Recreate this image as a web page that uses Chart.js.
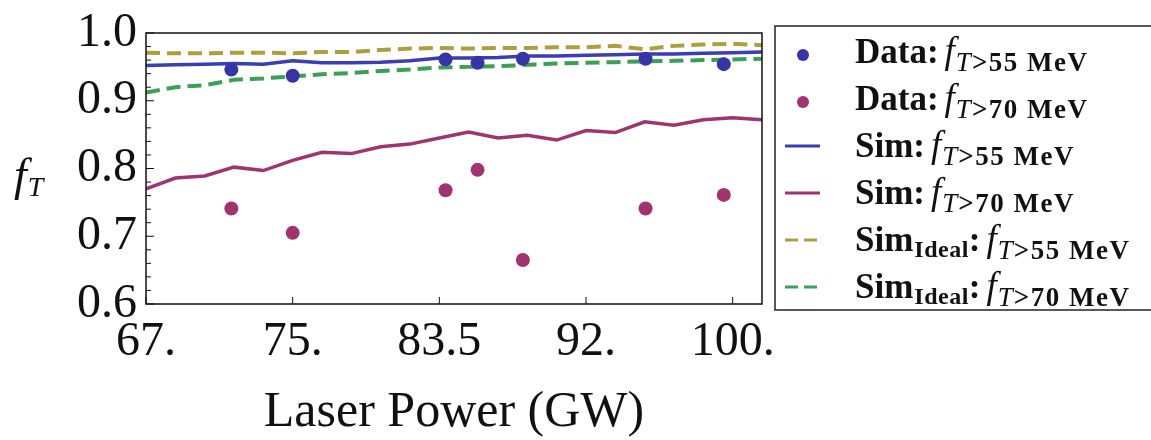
<!DOCTYPE html>
<html>
<head>
    <title>f_T vs Laser Power</title>
    <script src="https://cdn.jsdelivr.net/npm/chart.js"></script>
    <style>
        body {
            margin: 0;
            background: #fff;
        }
    </style>
</head>
<body>
<canvas id="chart" width="1151" height="440"></canvas>
<script>
    // simulation grid (GW)
    const simPower = [67, 68.65, 70.3, 71.95, 73.6, 75.25, 76.9, 78.55, 80.2, 81.85, 83.5,
                      85.15, 86.8, 88.45, 90.1, 91.75, 93.4, 95.05, 96.7, 98.35, 100, 101.65];
    const simF55 = [0.952, 0.953, 0.954, 0.955, 0.954, 0.959, 0.956, 0.956, 0.957, 0.959, 0.963,
                    0.963, 0.964, 0.966, 0.966, 0.967, 0.968, 0.969, 0.969, 0.970, 0.971, 0.972];
    const simF70 = [0.770, 0.786, 0.789, 0.802, 0.797, 0.812, 0.824, 0.822, 0.832, 0.836, 0.845,
                    0.854, 0.845, 0.849, 0.842, 0.856, 0.853, 0.869, 0.864, 0.872, 0.875, 0.872];
    const idealF55 = [0.971, 0.970, 0.970, 0.971, 0.971, 0.970, 0.972, 0.972, 0.975, 0.977, 0.978,
                      0.977, 0.978, 0.978, 0.979, 0.979, 0.981, 0.976, 0.981, 0.983, 0.984, 0.982];
    const idealF70 = [0.912, 0.920, 0.923, 0.931, 0.933, 0.936, 0.939, 0.941, 0.944, 0.946, 0.949,
                      0.950, 0.951, 0.953, 0.955, 0.956, 0.957, 0.958, 0.959, 0.960, 0.961, 0.962];

    // measured points
    const dataPower = [71.8, 75.25, 83.85, 85.65, 88.2, 95.1, 99.5];
    const dataF55 = [0.946, 0.937, 0.961, 0.956, 0.962, 0.962, 0.954];
    const dataF70 = [0.741, 0.705, 0.768, 0.798, 0.665, 0.741, 0.761];

    const xTickValues = [67, 75.25, 83.5, 91.75, 100];
    const xTickLabels = ['67.', '75.', '83.5', '92.', '100.'];

    const SERIF = '"Liberation Serif", "Times New Roman", serif';

    function pts(xs, ys) {
        return xs.map((x, i) => ({x: x, y: ys[i]}));
    }

    // legend rows: dataset index, head word, head subscript, energy cut
    const legendRows = [
        {ds: 0, head: 'Data', sub: '', cut: '55'},
        {ds: 1, head: 'Data', sub: '', cut: '70'},
        {ds: 2, head: 'Sim', sub: '', cut: '55'},
        {ds: 3, head: 'Sim', sub: '', cut: '70'},
        {ds: 4, head: 'Sim', sub: 'Ideal', cut: '55'},
        {ds: 5, head: 'Sim', sub: 'Ideal', cut: '70'}
    ];

    function piece(ctx, text, font, x, y, spacing) {
        ctx.font = font;
        ctx.letterSpacing = (spacing || 0) + 'px';
        ctx.fillText(text, x, y);
        const w = ctx.measureText(text).width;
        ctx.letterSpacing = '0px';
        return x + w;
    }

    const framePlugin = {
        id: 'frame',
        afterDatasetsDraw(chart) {
            const {ctx, chartArea: a, scales: {x, y}} = chart;
            ctx.save();
            ctx.strokeStyle = '#111';
            ctx.lineWidth = 1.5;
            ctx.strokeRect(a.left, a.top, a.right - a.left, a.bottom - a.top);
            ctx.lineWidth = 1;
            // inward ticks
            for (let k = 0; k <= 20; k++) {
                const py = y.getPixelForValue(0.6 + k * 0.02);
                const len = (k % 5 === 0) ? 8 : 5;
                ctx.beginPath();
                ctx.moveTo(a.left, py);
                ctx.lineTo(a.left + len, py);
                ctx.stroke();
            }
            xTickValues.forEach(v => {
                const px = x.getPixelForValue(v);
                ctx.beginPath();
                ctx.moveTo(px, a.bottom);
                ctx.lineTo(px, a.bottom - 7);
                ctx.stroke();
            });
            ctx.restore();
        },
        afterDraw(chart) {
            const ctx = chart.ctx;
            ctx.save();
            ctx.fillStyle = '#111';
            ctx.textBaseline = 'alphabetic';
            ctx.textAlign = 'left';

            // y axis title f_T
            let tx = piece(ctx, 'f', 'italic 46px ' + SERIF, 14, 190);
            piece(ctx, 'T', 'italic 28px ' + SERIF, tx + 1, 196);

            // legend box
            ctx.strokeStyle = '#222';
            ctx.lineWidth = 1.5;
            ctx.strokeRect(775, 26, 400, 284);

            legendRows.forEach((row, i) => {
                const ds = chart.data.datasets[row.ds];
                const base = 63 + i * 47;
                ctx.save();
                if (ds.showLine === false) {
                    ctx.fillStyle = ds.pointBackgroundColor;
                    ctx.beginPath();
                    ctx.arc(803, base - 8, 6, 0, Math.PI * 2);
                    ctx.fill();
                } else {
                    ctx.strokeStyle = ds.borderColor;
                    ctx.lineWidth = 3;
                    ctx.setLineDash(ds.borderDash ? [13, 6] : []);
                    ctx.beginPath();
                    ctx.moveTo(785, base - 11);
                    ctx.lineTo(820, base - 11);
                    ctx.stroke();
                }
                ctx.restore();

                let x = piece(ctx, row.head, 'bold 35px ' + SERIF, 855, base);
                if (row.sub) x = piece(ctx, row.sub, 'bold 24px ' + SERIF, x + 1, base + 6, 0.5);
                x = piece(ctx, ':', 'bold 35px ' + SERIF, x, base);
                x = piece(ctx, 'f', 'italic 37px ' + SERIF, x + 6, base);
                x = piece(ctx, 'T', 'italic 27px ' + SERIF, x + 1, base + 8);
                piece(ctx, '>' + row.cut + ' MeV', 'bold 27px ' + SERIF, x + 1, base + 8, 1.5);
            });
            ctx.restore();
        }
    };

    const ctx = document.getElementById('chart').getContext('2d');
    new Chart(ctx, {
        type: 'line',
        data: {
            datasets: [
                {
                    label: 'Data: f T>55 MeV',
                    data: pts(dataPower, dataF55),
                    showLine: false,
                    pointRadius: 7,
                    pointBackgroundColor: '#3535a8',
                    pointBorderWidth: 0
                },
                {
                    label: 'Data: f T>70 MeV',
                    data: pts(dataPower, dataF70),
                    showLine: false,
                    pointRadius: 7,
                    pointBackgroundColor: '#a2336f',
                    pointBorderWidth: 0
                },
                {
                    label: 'Sim: f T>55 MeV',
                    data: pts(simPower, simF55),
                    borderColor: '#3b3db3',
                    borderWidth: 3.5,
                    pointRadius: 0,
                    tension: 0
                },
                {
                    label: 'Sim: f T>70 MeV',
                    data: pts(simPower, simF70),
                    borderColor: '#9e3470',
                    borderWidth: 3.5,
                    pointRadius: 0,
                    tension: 0
                },
                {
                    label: 'Sim Ideal: f T>55 MeV',
                    data: pts(simPower, idealF55),
                    borderColor: '#ad9e3e',
                    borderWidth: 4,
                    borderDash: [14, 7],
                    pointRadius: 0,
                    tension: 0
                },
                {
                    label: 'Sim Ideal: f T>70 MeV',
                    data: pts(simPower, idealF70),
                    borderColor: '#3d9e55',
                    borderWidth: 4,
                    borderDash: [14, 7],
                    pointRadius: 0,
                    tension: 0
                }
            ]
        },
        options: {
            responsive: false,
            animation: false,
            layout: {
                padding: {top: 26, right: 389, left: 0, bottom: 0}
            },
            plugins: {
                legend: {display: false},
                tooltip: {enabled: false}
            },
            scales: {
                x: {
                    type: 'linear',
                    min: 67,
                    max: 101.65,
                    grid: {display: false, drawTicks: false},
                    border: {display: false},
                    afterBuildTicks: scale => {
                        scale.ticks = xTickValues.map(v => ({value: v}));
                    },
                    afterFit: scale => {
                        scale.height = 136;
                    },
                    ticks: {
                        autoSkip: false,
                        maxRotation: 0,
                        padding: 14,
                        color: '#111',
                        font: {family: SERIF, size: 48, lineHeight: 1},
                        callback: value => {
                            const i = xTickValues.findIndex(v => Math.abs(v - value) < 1e-6);
                            return i >= 0 ? xTickLabels[i] : '';
                        }
                    },
                    title: {
                        display: true,
                        text: 'Laser Power (GW)',
                        color: '#111',
                        font: {family: SERIF, size: 50, lineHeight: 1},
                        padding: {top: 0, bottom: 2}
                    }
                },
                y: {
                    min: 0.6,
                    max: 1.0,
                    grid: {display: false, drawTicks: false},
                    border: {display: false},
                    afterFit: scale => {
                        scale.width = 146;
                    },
                    ticks: {
                        stepSize: 0.1,
                        padding: 9,
                        color: '#111',
                        font: {family: SERIF, size: 48, lineHeight: 1},
                        callback: value => value.toFixed(1)
                    }
                }
            }
        },
        plugins: [framePlugin]
    });
</script>
</body>
</html>
